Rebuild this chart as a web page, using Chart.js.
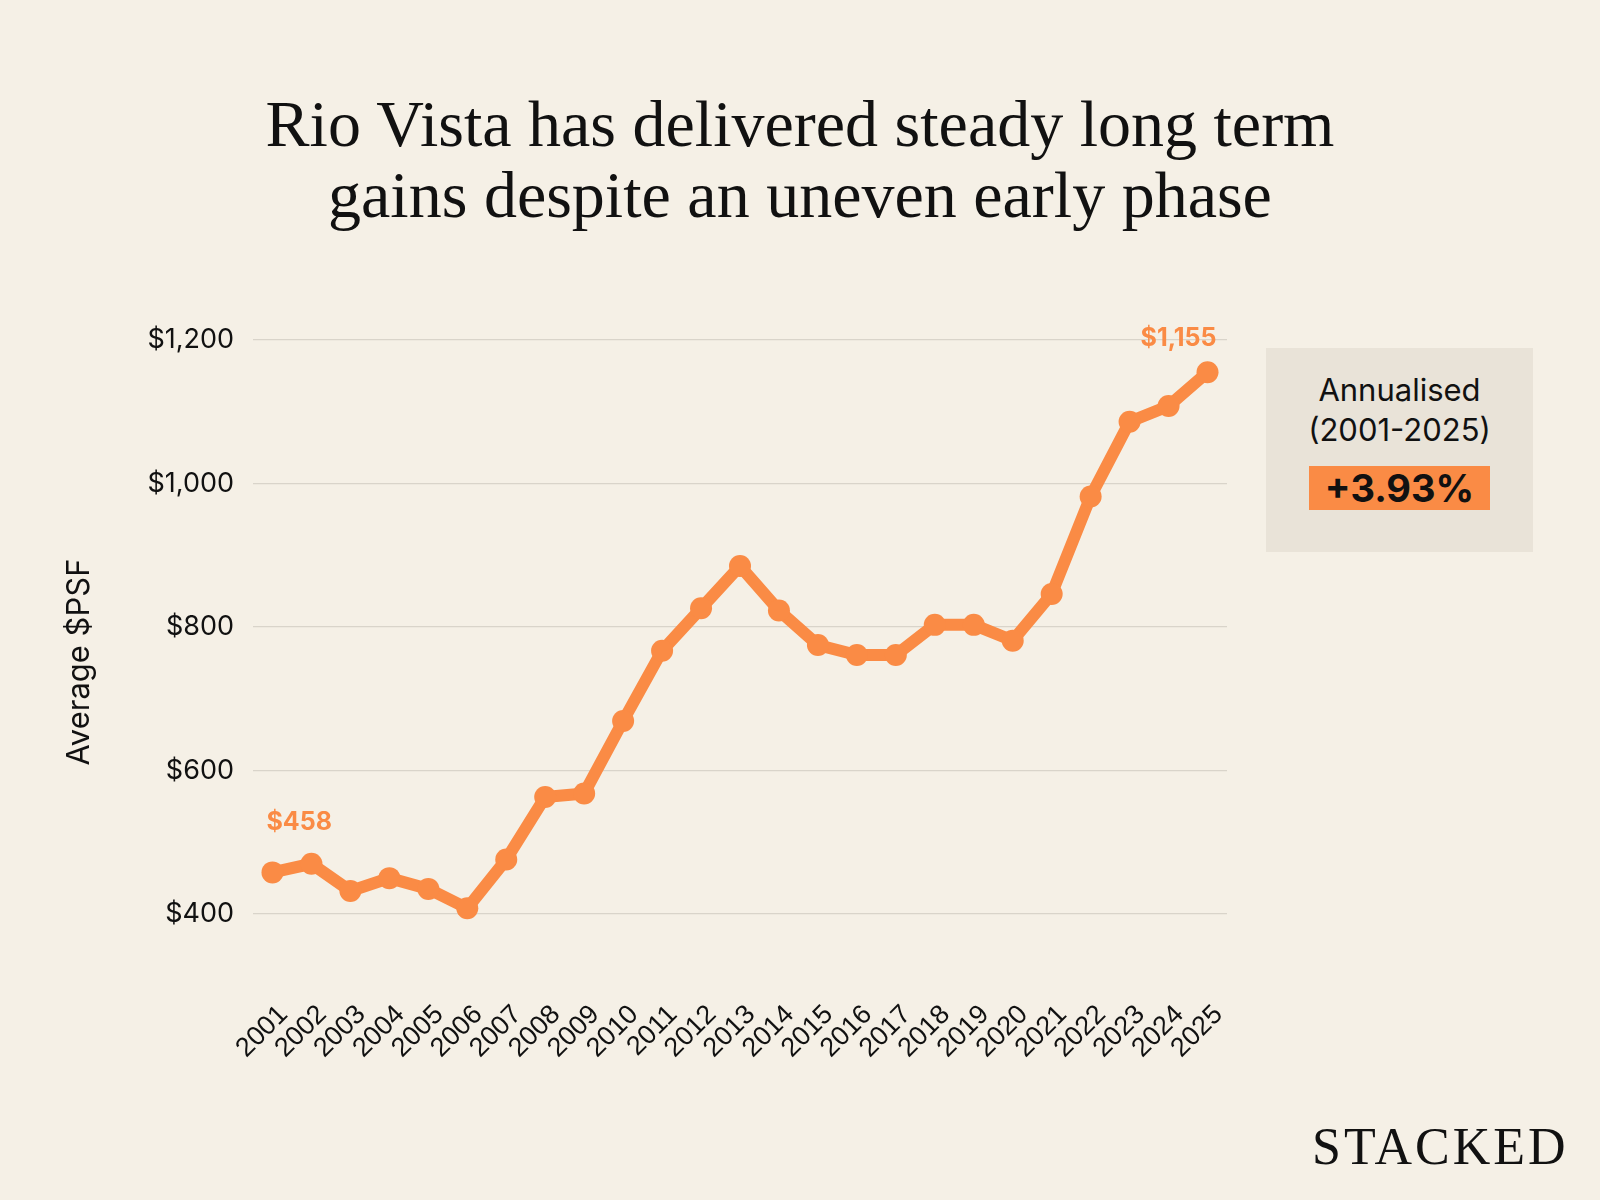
<!DOCTYPE html>
<html>
<head>
<meta charset="utf-8">
<script src="https://cdn.jsdelivr.net/npm/chart.js@4"></script>
<style>
  html, body { margin: 0; padding: 0; }
  body { width: 1600px; height: 1200px; background: #F5F0E6; position: relative; overflow: hidden; font-family: Inter, sans-serif; color: #111; }
  #title { position: absolute; left: 0; top: 88px; width: 1600px; text-align: center; font-family: "Liberation Serif", serif; font-size: 66px; line-height: 71px; color: #111; }
  #chartWrap { position: absolute; left: 0; top: 0; width: 1600px; height: 1200px; }
  #box { position: absolute; left: 1266px; top: 348px; width: 267px; height: 204px; background: #E9E3D8; text-align: center; }
  #box .lbl { font-size: 31px; line-height: 40px; margin-top: 22px; color: #111; }
  #box .pct { display: inline-block; margin-top: 16px; width: 181px; height: 44px; line-height: 44px; background: #FA8B45; font-weight: 700; font-size: 38px; color: #111; }
  #logo { position: absolute; left: 1312px; top: 1121px; font-family: "Liberation Serif", serif; font-size: 52px; letter-spacing: 3px; line-height: 1; color: #111; }
</style>
</head>
<body>
<div id="title">Rio Vista has delivered steady long term<br>gains despite an uneven early phase</div>
<div id="chartWrap"><canvas id="psfChart"></canvas></div>
<div id="box">
  <div class="lbl">Annualised<br>(2001-2025)</div>
  <div class="pct">+3.93%</div>
</div>
<div id="logo">STACKED</div>
<script>
// Rio Vista average $PSF by year
const years = ['2001', '2002', '2003', '2004', '2005', '2006', '2007', '2008', '2009', '2010', '2011', '2012', '2013',
               '2014', '2015', '2016', '2017', '2018', '2019', '2020', '2021', '2022', '2023', '2024', '2025'];
const avgPsf = [458, 470, 432, 450, 435, 408, 476, 563, 568, 669, 767, 826, 885,
                823, 775, 761, 761, 803, 803, 781, 846, 982, 1086, 1108, 1155];
const yTicks = [400, 600, 800, 1000, 1200];
const yTitle = 'Average $PSF';

const orange = '#FA8B45';

const fmtMoney = v => '$' + v.toLocaleString('en-US');

// y-axis title + end-point labels drawn on canvas
const extrasPlugin = {
    id: 'extras',
    afterDatasetsDraw(chart) {
        const ctx = chart.ctx;
        const pts = chart.getDatasetMeta(0).data;
        const first = pts[0], last = pts[pts.length - 1];
        ctx.save();
        ctx.fillStyle = orange;
        ctx.font = 'bold 25px Inter';
        ctx.textBaseline = 'middle';
        ctx.textAlign = 'left';
        ctx.fillText(fmtMoney(avgPsf[0]), first.x - 6, first.y - 50);
        ctx.textAlign = 'right';
        ctx.fillText(fmtMoney(avgPsf[avgPsf.length - 1]), last.x + 9, last.y - 34);

        ctx.fillStyle = '#111';
        ctx.font = '31px Inter';
        ctx.textAlign = 'center';
        ctx.translate(80, 662);
        ctx.rotate(-Math.PI / 2);
        ctx.fillText(yTitle, 0, 0);
        ctx.restore();
    }
};

const ctx = document.getElementById('psfChart').getContext('2d');
new Chart(ctx, {
    type: 'line',
    data: {
        labels: years,
        datasets: [{
            data: avgPsf,
            borderColor: orange,
            backgroundColor: orange,
            borderWidth: 12,
            pointRadius: 11,
            pointBorderWidth: 0,
            pointBackgroundColor: orange,
            tension: 0,
            clip: false
        }]
    },
    options: {
        responsive: true,
        maintainAspectRatio: false,
        animation: false,
        layout: { padding: { left: 0, right: 373, top: 340, bottom: 0 } },
        plugins: {
            legend: { display: false },
            tooltip: { enabled: false }
        },
        scales: {
            x: {
                offset: true,
                grid: { display: false, drawTicks: false },
                border: { display: false },
                ticks: {
                    color: '#111',
                    font: { family: 'Liberation Sans', size: 27 },
                    maxRotation: 45,
                    minRotation: 45,
                    autoSkip: false,
                    padding: 85,
                    labelOffset: 11
                },
                afterFit(scale) { scale.height = 286; }
            },
            y: {
                min: 400,
                max: 1200,
                afterBuildTicks(scale) { scale.ticks = yTicks.map(v => ({ value: v })); },
                grid: { color: '#D9D4CA', lineWidth: 1.2, drawTicks: false },
                border: { display: false },
                ticks: {
                    color: '#111',
                    font: { family: 'Inter', size: 27 },
                    padding: 19,
                    callback: v => fmtMoney(v)
                },
                afterFit(scale) { scale.width = 253; }
            }
        }
    },
    plugins: [extrasPlugin]
});
</script>
</body>
</html>
